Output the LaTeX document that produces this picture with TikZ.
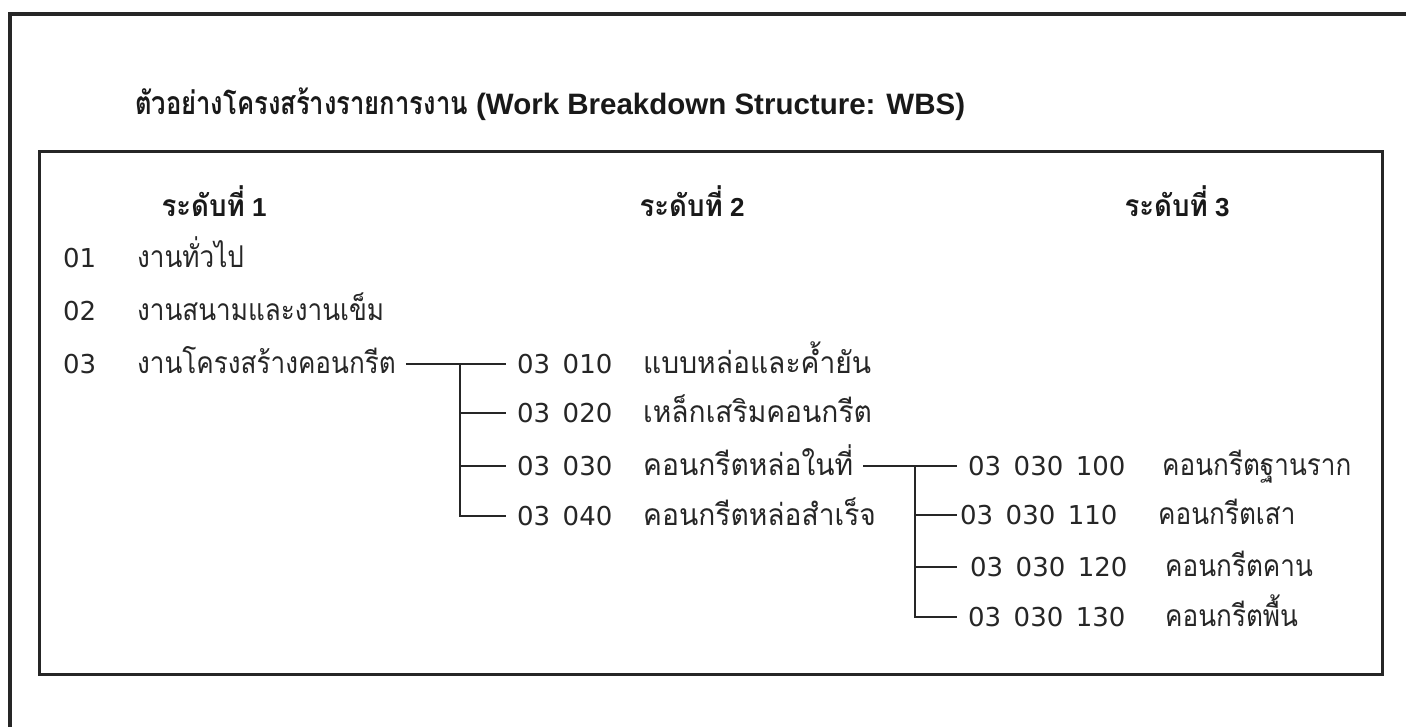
\documentclass[tikz,border=0pt]{standalone}
\usepackage{fontspec}
\setmainfont{Liberation Sans}
\newfontfamily\thaifont[Script=Thai,FakeStretch=0.87]{Loma}
\newfontfamily\thaiwide[Script=Thai,FakeStretch=0.94]{Loma}
\newfontfamily\thaihead[Script=Thai,FakeStretch=0.92]{Loma}
\newfontfamily\thaititle[Script=Thai,FakeStretch=0.8]{Loma}
\newfontfamily\codefont{DejaVu Sans}
\newcommand{\gap}{\hspace{0.48em}}
\begin{document}
\begin{tikzpicture}[x=1pt,y=-1pt,
  frame/.style={line width=4pt,black!85},
  panel/.style={line width=3pt,black!85},
  conn/.style={line width=2.4pt,black!85},
  titletext/.style={anchor=base west,inner sep=0pt,font=\bfseries\fontsize{29.5}{34}\selectfont,text=black!90},
  headtext/.style={anchor=base,inner sep=0pt,font=\bfseries\fontsize{26}{30}\selectfont,text=black!90},
  codetext/.style={anchor=west,inner sep=0pt,text height=19pt,text depth=0pt,font=\codefont\fontsize{26}{30}\selectfont,text=black!85},
  nametext/.style={anchor=west,inner sep=0pt,text height=19pt,text depth=0pt,font=\thaifont\fontsize{30}{34}\selectfont,text=black!85},
  nametextw/.style={nametext,font=\thaiwide\fontsize{30}{34}\selectfont}]
\useasboundingbox (0,0) rectangle (1406,727);
\draw[frame] (10,730) -- (10,14) -- (1410,14);
\draw[panel] (39,152) rectangle (1382,674);

\node[titletext] (title) at (135,115) {{\thaititle\fontsize{32}{36}\selectfont ตัวอย่างโครงสร้างรายการงาน} (Work Breakdown Structure: WBS)};

\node[headtext] (h1) at (214,217) {{\thaihead\fontsize{30}{34}\selectfont ระดับที่} 1};
\node[headtext] (h2) at (692,217) {{\thaihead\fontsize{30}{34}\selectfont ระดับที่} 2};
\node[headtext] (h3) at (1177,217) {{\thaihead\fontsize{30}{34}\selectfont ระดับที่} 3};

% level 1
\node[codetext] (c1) at (63,258) {01};
\node[nametext] (n1) at (137,258) {งานทั่วไป};
\node[codetext] (c2) at (63,311) {02};
\node[nametext] (n2) at (137,311) {งานสนามและงานเข็ม};
\node[codetext] (c3) at (63,364) {03};
\node[nametext] (n3) at (137,364) {งานโครงสร้างคอนกรีต};

% level 2
\node[codetext] (c31) at (517,364) {03\gap 010};
\node[nametextw] (n31) at (643,364) {แบบหล่อและค้ำยัน};
\node[codetext] (c32) at (517,413) {03\gap 020};
\node[nametextw] (n32) at (643,413) {เหล็กเสริมคอนกรีต};
\node[codetext] (c33) at (517,466) {03\gap 030};
\node[nametextw] (n33) at (643,466) {คอนกรีตหล่อในที่};
\node[codetext] (c34) at (517,516) {03\gap 040};
\node[nametextw] (n34) at (643,516) {คอนกรีตหล่อสำเร็จ};

% level 3
\node[codetext] (c331) at (968,466) {03\gap 030\gap 100};
\node[nametext] (n331) at (1162,466) {คอนกรีตฐานราก};
\node[codetext] (c332) at (960,515) {03\gap 030\gap 110};
\node[nametext] (n332) at (1158,515) {คอนกรีตเสา};
\node[codetext] (c333) at (970,567) {03\gap 030\gap 120};
\node[nametext] (n333) at (1165,567) {คอนกรีตคาน};
\node[codetext] (c334) at (968,617) {03\gap 030\gap 130};
\node[nametext] (n334) at (1165,617) {คอนกรีตพื้น};

% connectors level 1 -> 2
\coordinate (j1) at (460,364);
\draw[conn] ([xshift=10pt]n3.east) -- ([xshift=-11pt]c31.west);
\draw[conn] (j1) |- ([xshift=-11pt]c34.west);
\draw[conn] (j1 |- c32.west) -- ([xshift=-11pt]c32.west);
\draw[conn] (j1 |- c33.west) -- ([xshift=-11pt]c33.west);

% connectors level 2 -> 3
\coordinate (j2) at (915,466);
\draw[conn] ([xshift=10pt]n33.east) -- (957,466);
\draw[conn] (j2) |- (957,617);
\draw[conn] (j2 |- c332.west) -- (957,515);
\draw[conn] (j2 |- c333.west) -- (957,567);
\end{tikzpicture}
\end{document}
